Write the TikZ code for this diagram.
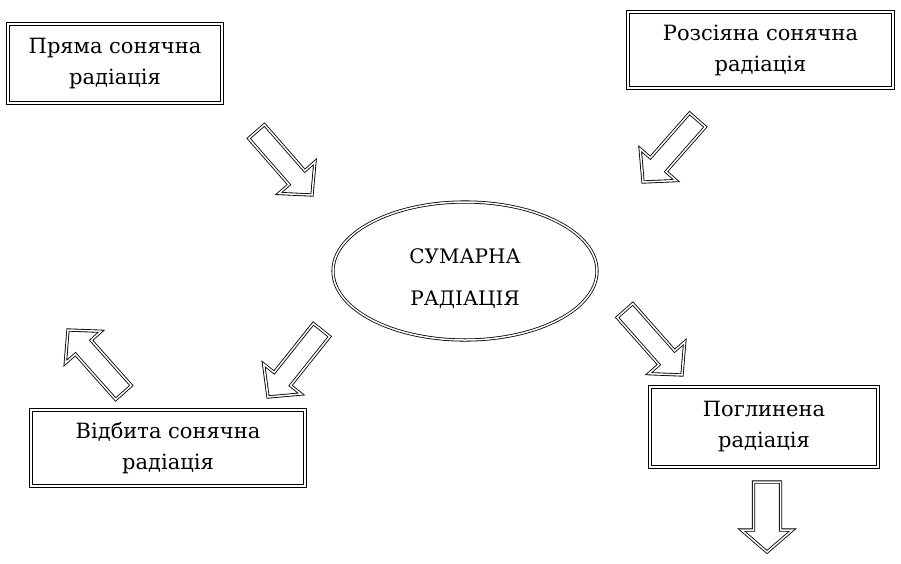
\documentclass[tikz,border=0pt]{standalone}
\usepackage{fontspec}
\setmainfont{DejaVu Serif}
\usetikzlibrary{calc,shapes.geometric}
\tikzset{
  boxnode/.style={shape=rectangle, draw=black, double=white, double distance=1.9pt, line width=0.95pt,
    inner sep=0pt, align=center, font=\fontsize{21}{31}\selectfont},
  ovalnode/.style={ellipse, draw=black, double=white, double distance=1.5pt, line width=0.8pt, inner sep=0pt},
  ovaltext/.style={inner sep=0pt, align=center, font=\fontsize{20}{42}\selectfont},
  blockarrow/.style={draw=black, double=white, double distance=1.5pt, line width=0.85pt, line join=miter}
}
\newcommand\blockarr[5]{%
  \coordinate (ab) at ($(#2)!#5pt!(#1)$);
  \draw[blockarrow] ($(#1)!#3pt!90:(#2)$) -- ($(ab)!#3pt!90:(#2)$) -- ($(ab)!#4pt!90:(#2)$)
    -- (#2) -- ($(ab)!#4pt!-90:(#2)$) -- ($(ab)!#3pt!-90:(#2)$) -- ($(#1)!#3pt!-90:(#2)$) -- cycle;
}
\begin{document}
\begin{tikzpicture}[x=1pt,y=-1pt]
  \fill[white] (0,0) rectangle (901,563);
  \useasboundingbox (0,0) rectangle (901,563);

  \node[boxnode, minimum width=214pt, minimum height=79pt] (direct) at (115,63.5)
    {Пряма сонячна\\радіація};
  \node[boxnode, minimum width=265pt, minimum height=76pt] (diffuse) at (760.5,50)
    {Розсіяна сонячна\\радіація};
  \node[ovalnode, minimum width=264pt, minimum height=138pt] (total) at (465,271) {};
  \node[ovaltext] (totaltext) at (465,279) {СУМАРНА\\РАДІАЦІЯ};
  \node[boxnode, minimum width=274pt, minimum height=76pt] (reflected) at (168,448)
    {Відбита сонячна\\радіація};
  \node[boxnode, minimum width=228pt, minimum height=80pt] (absorbed) at (764,427)
    {Поглинена\\радіація};

  \coordinate (a1t) at (256.5,131.5); \coordinate (a1h) at (312,195);
  \coordinate (a2t) at (697.5,120);   \coordinate (a2h) at (643,182);
  \coordinate (a3t) at (321.5,330);   \coordinate (a3h) at (268,397);
  \coordinate (a4t) at (123.5,392.5); \coordinate (a4h) at (68,330);
  \coordinate (a5t) at (625,310.5);   \coordinate (a5h) at (682,375);
  \coordinate (a6t) at (767,482);     \coordinate (a6h) at (767,552);

  \blockarr{a1t}{a1h}{10.5}{24}{23}
  \blockarr{a2t}{a2h}{10.5}{24}{23}
  \blockarr{a3t}{a3h}{10.5}{24}{23}
  \blockarr{a4t}{a4h}{10.5}{24}{23}
  \blockarr{a5t}{a5h}{10.5}{24}{23}
  \blockarr{a6t}{a6h}{13.5}{25.5}{22}
\end{tikzpicture}
\end{document}
